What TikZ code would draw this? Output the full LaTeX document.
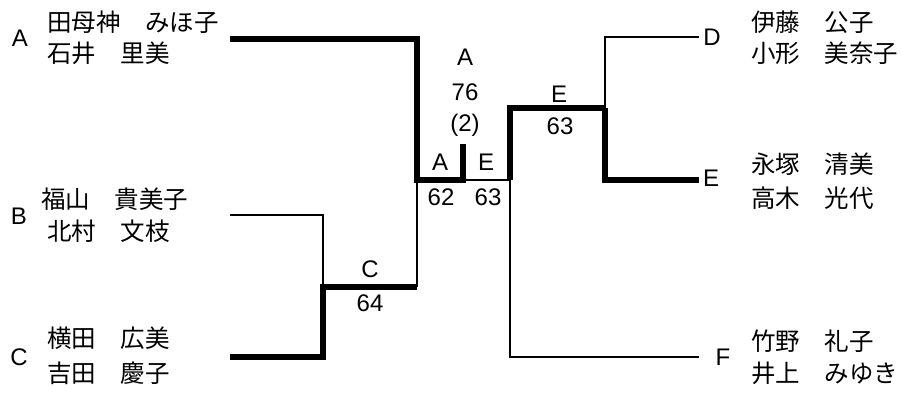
\documentclass[tikz,border=0pt]{standalone}
\usepackage{fontspec}
\setmainfont{Liberation Sans}
\newfontfamily\jp{Noto Sans CJK JP}
\begin{document}
\begin{tikzpicture}[x=1pt, y=-1pt]
        \tikzstyle{every node}=[inner sep=0pt, font=\fontsize{24}{28}\selectfont]
        \tikzstyle{player}=[anchor=west, font=\jp\fontsize{24.5}{28}\selectfont]
        \tikzstyle{winner}=[line width=5.5pt]
        \tikzstyle{loser}=[line width=2.4pt]
        \useasboundingbox (0,0) rectangle (902,394);
        % Left block
        \node (tA) at (20,38) {A};
        \node[player] (a1) at (47,22) {田母神　みほ子};
        \node[player] (a2) at (47,53) {石井　里美};
        \node (tB) at (19,216) {B};
        \node[player] (b1) at (41,199) {福山　貴美子};
        \node[player] (b2) at (47,231) {北村　文枝};
        \node (tC) at (19,357) {C};
        \node[player] (c1) at (47,338) {横田　広美};
        \node[player] (c2) at (47,373) {吉田　慶子};
        % Right block
        \node (tD) at (712,37) {D};
        \node[player] (d1) at (751,22) {伊藤　公子};
        \node[player] (d2) at (751,53) {小形　美奈子};
        \node (tE) at (711,178) {E};
        \node[player] (e1) at (751,164) {永塚　清美};
        \node[player] (e2) at (751,198) {高木　光代};
        \node (tF) at (723,357) {F};
        \node[player] (f1) at (751,341) {竹野　礼子};
        \node[player] (f2) at (751,373) {井上　みゆき};
        % Bracket points
        \coordinate (a0) at (230,39);
        \coordinate (b0) at (230,215);
        \coordinate (c0) at (230,357);
        \coordinate (bc) at (323,287);
        \coordinate (bcR) at (417,287);
        \coordinate (semL) at (417,180);
        \coordinate (fin) at (463,180);
        \coordinate (finTop) at (463,144);
        \coordinate (semR) at (510,180);
        \coordinate (de) at (605,108);
        \coordinate (d0) at (699,37);
        \coordinate (e0) at (699,180);
        \coordinate (f0) at (699,357);
        % Lines
        \draw[loser] (b0) -- (b0 -| bc) -- (bc);
        \draw[winner] (c0) -- (c0 -| bc) -- (bc) -- (bcR);
        \draw[loser] (bcR) -- (semL);
        \draw[winner] (a0) -- (a0 -| semL) -- (semL) -- (fin) -- (finTop);
        \draw[loser] (fin) -- (semR);
        \draw[winner] (semR) -- (semR |- de) -- (de);
        \draw[loser] (de) -- (de |- d0) -- (d0);
        \draw[winner] (de) -- (de |- e0) -- (e0);
        \draw[loser] (semR) -- (semR |- f0) -- (f0);
        % Results
        \node (rC) at (370,269) {C};
        \node (sC) at (370,303) {64};
        \node (rA) at (440,162) {A};
        \node (sA) at (441,197) {62};
        \node (rE) at (486,162) {E};
        \node (sE) at (488,197) {63};
        \node (rF) at (465,57) {A};
        \node (sF) at (465,92) {76};
        \node (pF) at (465,125) {(2)};
        \node (rDE) at (559,94) {E};
        \node (sDE) at (560,126) {63};
\end{tikzpicture}
\end{document}
